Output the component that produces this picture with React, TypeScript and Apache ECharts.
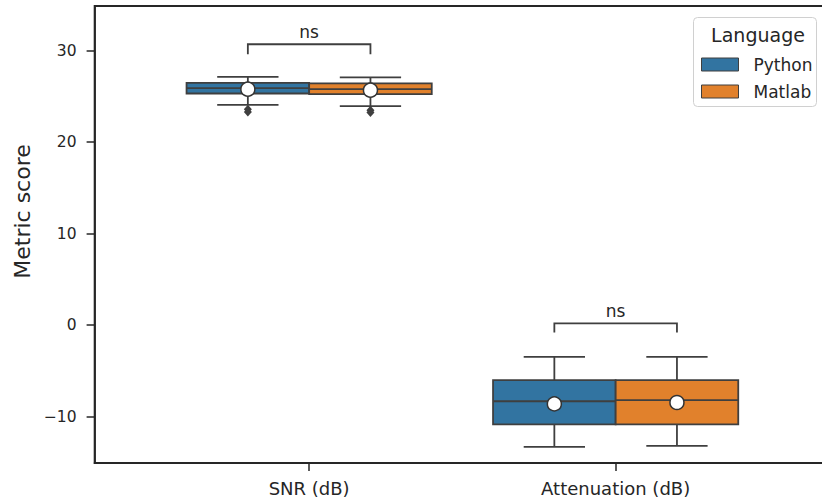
import React, { useEffect, useRef } from 'react';
import * as echarts from 'echarts';

const metrics = ['SNR (dB)', 'Attenuation (dB)'];
const languages = ['Python', 'Matlab'];
const languageColors = ['#3274a1', '#e1812c'];
// per metric: [lowerWhisker, q1, median, q3, upperWhisker]
const pythonBoxes = [
  [24.08, 25.32, 25.9, 26.48, 27.14],
  [-13.3, -10.85, -8.31, -6.01, -3.46],
];
const matlabBoxes = [
  [23.93, 25.25, 25.79, 26.42, 27.07],
  [-13.19, -10.85, -8.2, -6.0, -3.46],
];
const pythonMeans = [25.79, -8.6];
const matlabMeans = [25.68, -8.45];
// [metricIndex, value]
const pythonOutliers = [[0, 23.6], [0, 23.3]];
const matlabOutliers = [[0, 23.5], [0, 23.25]];
// per metric: [bracketTop, bracketLegEnd]
const brackets = [[30.7, 29.6], [0.19, -0.8]];
const bracketLabels = ['ns', 'ns'];
const yTicks = [-10, 0, 10, 20, 30];
const xTicks = [0, 1];

const FONT = 'DejaVu Sans';
const EDGE = '#3f3f3f';
const AXIS = '#262626';
const HUE_OFFSET = [-0.2, 0.2];
const BOX_WIDTH = 0.4;

export default function App() {
  const ref = useRef<HTMLDivElement>(null);
  useEffect(() => {
    if (!ref.current) return;
    document.body.style.overflow = 'hidden';
    const chart = echarts.init(ref.current, null, { renderer: 'svg' });

    const boxSets = [pythonBoxes, matlabBoxes];
    const meanSets = [pythonMeans, matlabMeans];
    const outlierSets = [pythonOutliers, matlabOutliers];

    const boxSeries = languages.map((lang, li) => ({
      name: lang,
      type: 'custom',
      itemStyle: { color: languageColors[li] },
      z: 2,
      data: boxSets[li].map((b, mi) => [mi + HUE_OFFSET[li], ...b]),
      encode: { x: 0, y: [1, 2, 3, 4, 5] },
      renderItem: (params: any, api: any) => {
        const x = api.value(0);
        const cx = api.coord([x, 0])[0];
        const half = api.size([BOX_WIDTH, 0])[0] / 2;
        const yLo = api.coord([x, api.value(1)])[1];
        const yQ1 = api.coord([x, api.value(2)])[1];
        const yMed = api.coord([x, api.value(3)])[1];
        const yQ3 = api.coord([x, api.value(4)])[1];
        const yHi = api.coord([x, api.value(5)])[1];
        const ls = { stroke: EDGE, lineWidth: 1.8 };
        return {
          type: 'group',
          children: [
            { type: 'line', shape: { x1: cx, y1: yQ3, x2: cx, y2: yHi }, style: ls },
            { type: 'line', shape: { x1: cx, y1: yQ1, x2: cx, y2: yLo }, style: ls },
            { type: 'line', shape: { x1: cx - half / 2, y1: yHi, x2: cx + half / 2, y2: yHi }, style: ls },
            { type: 'line', shape: { x1: cx - half / 2, y1: yLo, x2: cx + half / 2, y2: yLo }, style: ls },
            {
              type: 'rect',
              shape: { x: cx - half, y: yQ3, width: half * 2, height: yQ1 - yQ3 },
              style: { fill: api.visual('color'), stroke: EDGE, lineWidth: 1.8 },
            },
            { type: 'line', shape: { x1: cx - half, y1: yMed, x2: cx + half, y2: yMed }, style: ls },
          ],
        };
      },
    }));

    const meanSeries = languages.map((lang, li) => ({
      name: lang + ' mean',
      type: 'scatter',
      z: 5,
      symbol: 'circle',
      symbolSize: 14,
      itemStyle: { color: '#ffffff', borderColor: '#333333', borderWidth: 1.5, opacity: 1 },
      data: meanSets[li].map((m, mi) => [mi + HUE_OFFSET[li], m]),
    }));

    const outlierSeries = languages.map((lang, li) => ({
      name: lang + ' outliers',
      type: 'scatter',
      z: 3,
      symbol: 'diamond',
      symbolSize: [8, 9],
      itemStyle: { color: EDGE, opacity: 1 },
      data: outlierSets[li].map(([mi, v]) => [mi + HUE_OFFSET[li], v]),
    }));

    const bracketSeries = {
      name: 'significance',
      type: 'custom',
      z: 4,
      data: brackets.map((b, mi) => [mi, b[0], b[1]]),
      renderItem: (params: any, api: any) => {
        const x = api.value(0);
        const top = api.value(1);
        const leg = api.value(2);
        const pL = api.coord([x - 0.2, leg]);
        const pLT = api.coord([x - 0.2, top]);
        const pRT = api.coord([x + 0.2, top]);
        const pR = api.coord([x + 0.2, leg]);
        const c = api.coord([x, top]);
        return {
          type: 'group',
          children: [
            {
              type: 'polyline',
              shape: { points: [pL, pLT, pRT, pR] },
              style: { stroke: EDGE, lineWidth: 1.8, fill: 'none' },
            },
            {
              type: 'text',
              x: c[0],
              y: c[1] - 12,
              style: {
                text: bracketLabels[params.dataIndex],
                fontFamily: FONT,
                fontSize: 17,
                fill: AXIS,
                align: 'center',
                verticalAlign: 'middle',
              },
            },
          ],
        };
      },
    };

    chart.setOption({
      animation: false,
      grid: {
        left: 94.6,
        top: 6,
        width: 735.6,
        bottom: 38,
        show: true,
        borderColor: AXIS,
        borderWidth: 1.8,
        backgroundColor: 'transparent',
      },
      xAxis: {
        type: 'value',
        min: -0.7,
        max: 1.7,
        splitLine: { show: false },
        axisLine: { show: true, onZero: false, lineStyle: { color: AXIS, width: 1.8 } },
        axisTick: { show: true, length: 8, customValues: xTicks, lineStyle: { color: AXIS, width: 1.5 } },
        axisLabel: {
          customValues: xTicks,
          formatter: (v: number) => metrics[Math.round(v)] ?? '',
          fontFamily: FONT,
          fontSize: 18,
          color: AXIS,
          margin: 16,
        },
      },
      yAxis: {
        type: 'value',
        min: -15.06,
        max: 34.88,
        splitLine: { show: false },
        axisLine: { show: true, onZero: false, lineStyle: { color: AXIS, width: 1.8 } },
        axisTick: { show: true, length: 8, customValues: yTicks, lineStyle: { color: AXIS, width: 1.5 } },
        axisLabel: {
          customValues: yTicks,
          formatter: (v: number) => String(v).replace('-', '\u2212'),
          fontFamily: FONT,
          fontSize: 15.5,
          color: AXIS,
          margin: 18,
        },
      },
      legend: {
        orient: 'vertical',
        left: 696,
        top: 51,
        icon: 'rect',
        itemWidth: 37,
        itemHeight: 13,
        itemGap: 10,
        selectedMode: false,
        itemStyle: { borderColor: EDGE, borderWidth: 1 },
        textStyle: { fontFamily: FONT, fontSize: 17, color: AXIS, padding: [0, 0, 0, 10] },
        data: languages,
      },
      graphic: [
        {
          type: 'rect',
          z: 0,
          shape: { x: 693.5, y: 17.5, width: 123, height: 89, r: 4 },
          style: { fill: 'rgba(255,255,255,0.8)', stroke: '#d0d0d0', lineWidth: 1 },
        },
        {
          type: 'text',
          z: 1,
          x: 758,
          y: 35,
          style: {
            text: 'Language',
            fontFamily: FONT,
            fontSize: 19,
            fill: AXIS,
            align: 'center',
            verticalAlign: 'middle',
          },
        },
        {
          type: 'text',
          x: 22.5,
          y: 211.5,
          rotation: Math.PI / 2,
          style: {
            text: 'Metric score',
            fontFamily: FONT,
            fontSize: 22,
            fill: AXIS,
            align: 'center',
            verticalAlign: 'middle',
          },
        },
      ],
      series: [...boxSeries, ...outlierSeries, ...meanSeries, bracketSeries],
    });

    return () => chart.dispose();
  }, []);

  return (
    <div
      ref={ref}
      style={{ position: 'fixed', left: 0, top: 0, width: 850, height: 501, background: '#ffffff' }}
    />
  );
}
